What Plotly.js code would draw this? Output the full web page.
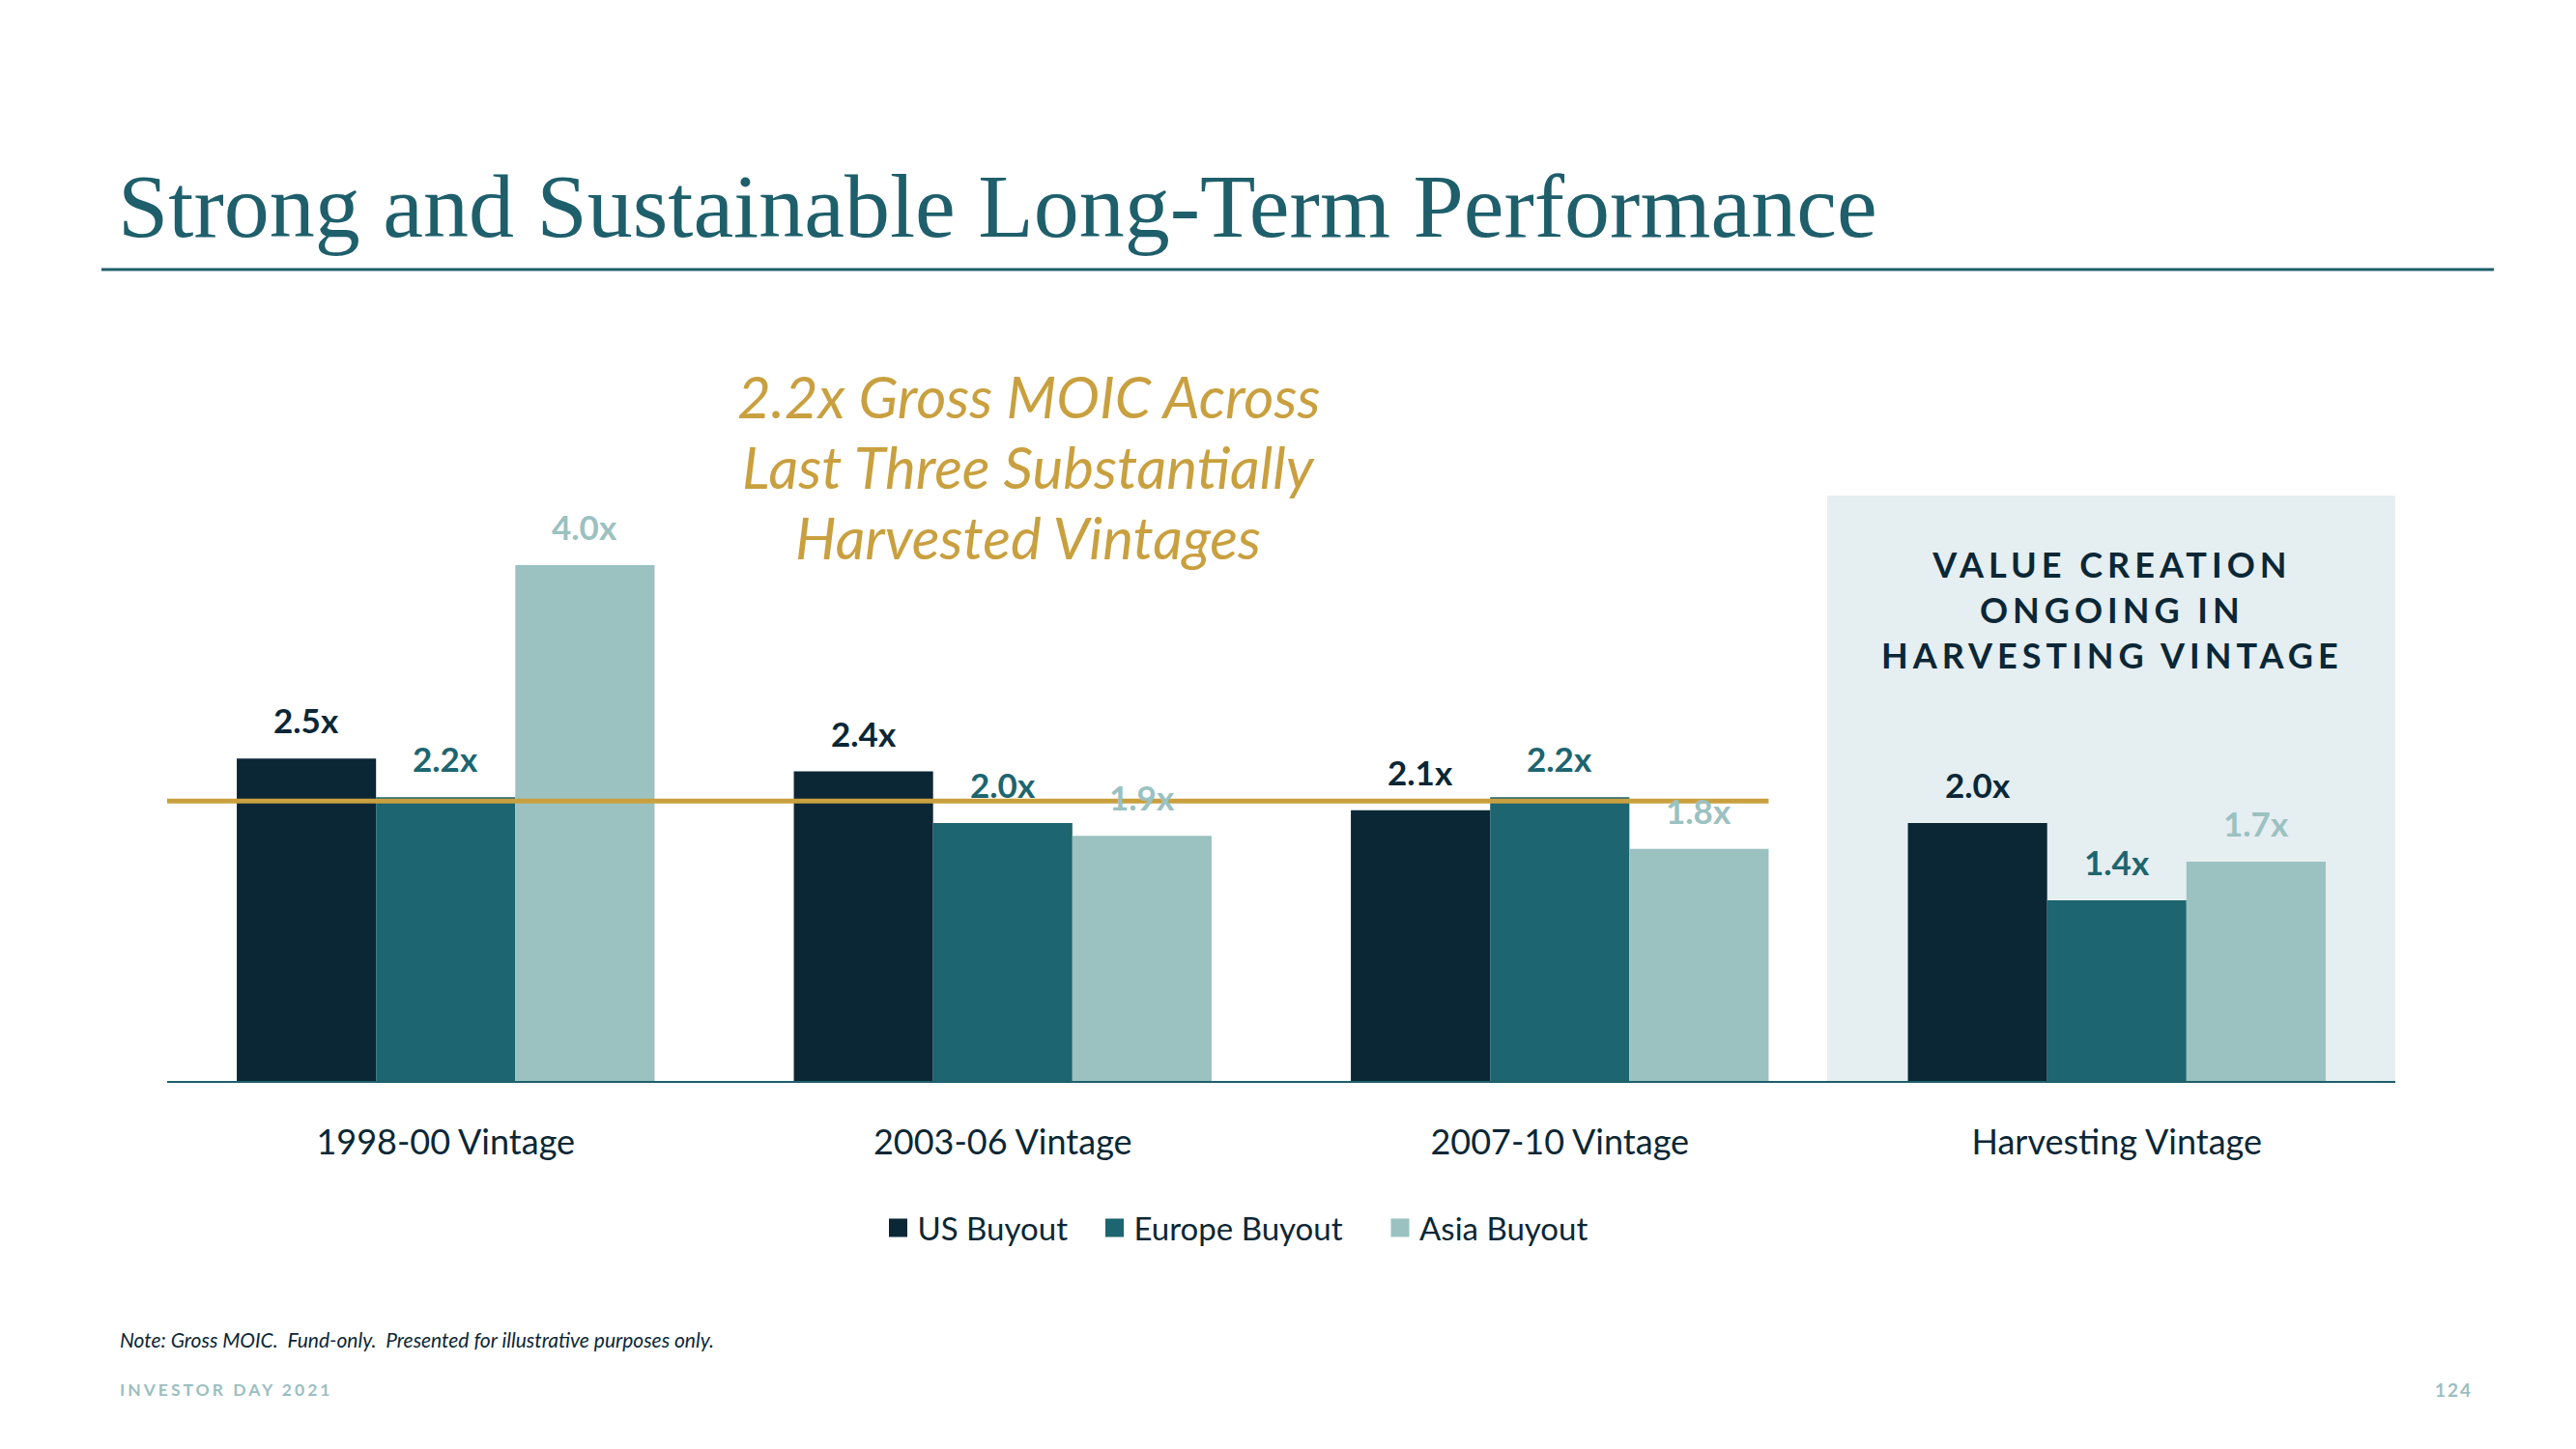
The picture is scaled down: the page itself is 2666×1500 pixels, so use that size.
<!DOCTYPE html>
<html>
<head>
<meta charset="utf-8">
<script src="https://cdn.plot.ly/plotly-3.0.1.min.js"></script>
<style>
  html, body { margin: 0; padding: 0; background: #ffffff; }
  #chart { width: 2666px; height: 1500px; }
</style>
</head>
<body>
<div id="chart"></div>
<script>
// ---- data ----
const categories = ['1998-00 Vintage', '2003-06 Vintage', '2007-10 Vintage', 'Harvesting Vintage'];
const seriesNames = ['US Buyout', 'Europe Buyout', 'Asia Buyout'];
const usBuyout = [2.5, 2.4, 2.1, 2.0];
const europeBuyout = [2.2, 2.0, 2.2, 1.4];
const asiaBuyout = [4.0, 1.9, 1.8, 1.7];
const seriesColors = ['#0b2736', '#1d6570', '#9bc1c1'];
const averageMoic = 2.17;      // gold reference line
const highlightCategory = 'Harvesting Vintage';

const titleText = 'Strong and Sustainable Long-Term Performance';
const calloutLines = ['2.2x Gross MOIC Across', 'Last Three Substantially', 'Harvested Vintages'];
const boxLines = ['VALUE CREATION', 'ONGOING IN', 'HARVESTING VINTAGE'];
const noteText = 'Note: Gross MOIC.  Fund-only.  Presented for illustrative purposes only.';
const footerLeft = 'INVESTOR DAY 2021';
const footerRight = '124';

// ---- layout constants ----
const W = 2666, H = 1500;
const M = {l: 173, r: 187, t: 398, b: 381};
const plotW = W - M.l - M.r;
const plotH = H - M.t - M.b;
const bargap = 0.25;
const barPx = (plotW / categories.length) * (1 - bargap) / seriesNames.length;
const FONT = 'Lato, "Open Sans", sans-serif';
const px2paperX = p => (p - M.l) / plotW;
const px2paperY = p => (H - M.b - p) / plotH;

const allSeries = [usBuyout, europeBuyout, asiaBuyout];
const legendIds = ['legend', 'legend2', 'legend3'];
const legendSquareCenters = [924.5, 1148.5, 1444];

const traces = allSeries.map((vals, j) => ({
  type: 'bar',
  name: seriesNames[j],
  x: categories,
  y: vals,
  legend: legendIds[j],
  marker: {color: seriesColors[j], line: {width: 0}},
  hoverinfo: 'x+y+name'
}));

const annotations = [];
// value labels
allSeries.forEach((vals, j) => {
  vals.forEach((v, i) => {
    annotations.push({
      x: categories[i], y: v, xref: 'x', yref: 'y',
      text: v.toFixed(1) + 'x',
      showarrow: false,
      xanchor: 'center', yanchor: 'middle',
      xshift: (j - 1) * barPx, yshift: 40,
      font: {family: FONT, size: 35, color: seriesColors[j], weight: 700}
    });
  });
});

// gold callout
const calloutY = [410, 483, 556];
calloutLines.forEach((t, k) => {
  annotations.push({
    xref: 'paper', yref: 'paper', x: px2paperX(1064), y: px2paperY(calloutY[k]),
    text: '<i>' + t + '</i>', showarrow: false, xanchor: 'center', yanchor: 'middle',
    font: {family: FONT, size: 60, color: '#c9a03f', style: 'italic'}
  });
});

// box text
annotations.push({
  xref: 'paper', yref: 'paper', x: px2paperX(2186), y: px2paperY(631),
  text: boxLines.map(t => '<span style="letter-spacing:5px">' + t + '</span>').join('<br>'),
  showarrow: false, xanchor: 'center', yanchor: 'middle', align: 'center',
  font: {family: FONT, size: 36, color: '#0b2736', weight: 700}
});

// note
annotations.push({
  xref: 'paper', yref: 'paper', x: px2paperX(122), y: px2paperY(1386),
  text: '<i>' + noteText + '</i>', showarrow: false, xanchor: 'left', yanchor: 'middle',
  font: {family: FONT, size: 21, color: '#0b2736', style: 'italic'}
});
// footer
annotations.push({
  xref: 'paper', yref: 'paper', x: px2paperX(122), y: px2paperY(1438),
  text: '<span style="letter-spacing:3px">' + footerLeft + '</span>', showarrow: false,
  xanchor: 'left', yanchor: 'middle',
  font: {family: FONT, size: 17.5, color: '#9bbfc0', weight: 700}
});
annotations.push({
  xref: 'paper', yref: 'paper', x: px2paperX(2561), y: px2paperY(1438),
  text: '<span style="letter-spacing:2px">' + footerRight + '</span>', showarrow: false,
  xanchor: 'right', yanchor: 'middle',
  font: {family: FONT, size: 19, color: '#9bbfc0', weight: 700}
});

const hiIdx = categories.indexOf(highlightCategory);
const halfGroup = (1 - bargap) / 2;

const shapes = [
  // highlight box
  {type: 'rect', xref: 'x', yref: 'paper', layer: 'below',
   x0: hiIdx - 0.52, x1: hiIdx + 0.5, y0: 0, y1: px2paperY(513),
   fillcolor: '#e5eef0', line: {width: 0}},
  // gold average line
  {type: 'line', xref: 'x', yref: 'y', layer: 'above',
   x0: -0.5, x1: (hiIdx - 1) + halfGroup, y0: averageMoic, y1: averageMoic,
   line: {color: '#c9a03f', width: 5}},
  // title rule
  {type: 'line', xref: 'paper', yref: 'paper',
   x0: px2paperX(105), x1: px2paperX(2581), y0: px2paperY(279), y1: px2paperY(279),
   line: {color: '#1e5f6b', width: 3}}
];

const layout = {
  width: W, height: H,
  margin: M,
  paper_bgcolor: '#ffffff', plot_bgcolor: 'rgba(0,0,0,0)',
  barmode: 'group', bargap: bargap, bargroupgap: 0,
  title: {
    text: titleText,
    x: 122 / W, xanchor: 'left', xref: 'container',
    y: 1 - 212 / H, yanchor: 'middle', yref: 'container',
    font: {family: '"Liberation Serif", "DejaVu Serif", serif', size: 94, color: '#1e5f6b'}
  },
  xaxis: {
    type: 'category', range: [-0.5, categories.length - 0.5],
    showgrid: false, zeroline: false,
    showline: true, linecolor: '#1e5f6b', linewidth: 2,
    ticks: 'outside', ticklen: 31, tickcolor: 'rgba(0,0,0,0)',
    tickfont: {family: FONT, size: 36, color: '#0b2736'},
    fixedrange: true
  },
  yaxis: {
    range: [0, plotH / 133.5], visible: false, showgrid: false, zeroline: false,
    fixedrange: true
  },
  showlegend: true,
  annotations: annotations,
  shapes: shapes
};
legendIds.forEach((id, j) => {
  layout[id] = {
    orientation: 'h', x: px2paperX(legendSquareCenters[j] - 15), xanchor: 'left',
    y: px2paperY(1271), yanchor: 'middle',
    font: {family: FONT, size: 33, color: '#0b2736'},
    itemclick: false, itemdoubleclick: false, bgcolor: 'rgba(0,0,0,0)',
    borderwidth: 0
  };
});

Plotly.newPlot('chart', traces, layout, {displayModeBar: false, staticPlot: true}).then(gd => {
  // enlarge legend squares to match the reference swatch size
  gd.querySelectorAll('.legendpoints path').forEach(p => p.setAttribute('d', 'M9.5,9.5H-9.5V-9.5H9.5Z'));
});
</script>
</body>
</html>
